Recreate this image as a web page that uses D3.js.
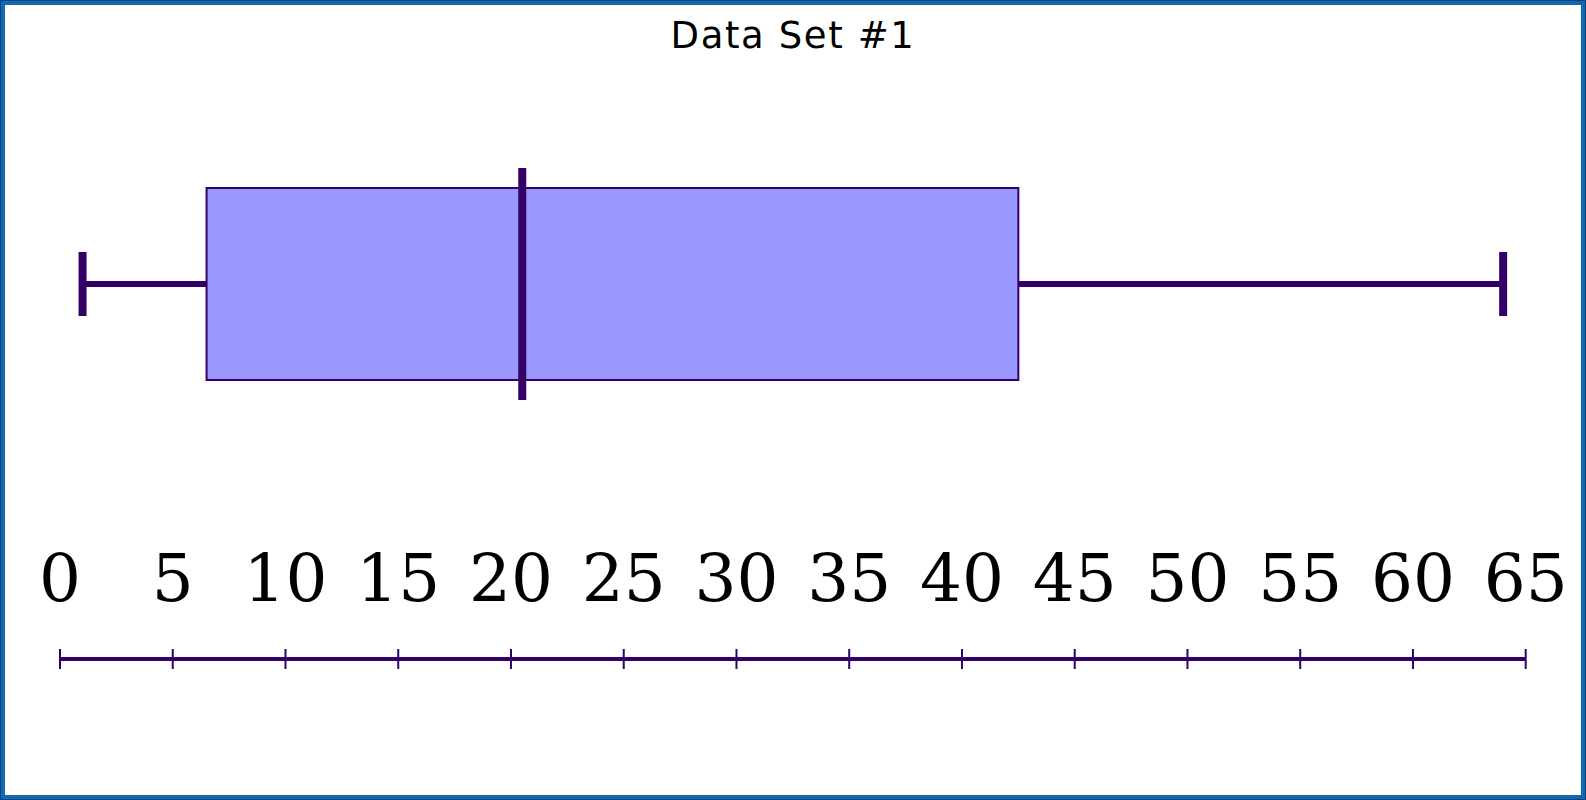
<!DOCTYPE html>
<html>
<head>
<meta charset="utf-8">
<script src="https://cdn.jsdelivr.net/npm/d3@7"></script>
<style>
  html, body { margin: 0; padding: 0; background: #fff; }
  svg { display: block; }
</style>
</head>
<body>
<div id="chart-container"></div>
<script>
// box plot summary for Data Set #1
const title = "Data Set #1";
const statNames = ["min", "q1", "median", "q3", "max"];
const statValues = [1, 6.5, 20.5, 42.5, 64];
const tickValues = [0, 5, 10, 15, 20, 25, 30, 35, 40, 45, 50, 55, 60, 65];

document.addEventListener('DOMContentLoaded', function(){
  drawBoxPlot();
});

function drawBoxPlot(){
  const width = 1586, height = 800;
  const stats = {};
  statNames.forEach((n, i) => stats[n] = statValues[i]);

  const svg = d3.select("#chart-container").append("svg")
    .attr("width", width)
    .attr("height", height);

  //frame
  svg.append("rect")
    .attr("x", 2.5).attr("y", 2.5)
    .attr("width", width - 5).attr("height", height - 5)
    .attr("fill", "#fff")
    .attr("stroke", "#0f6ab4")
    .attr("stroke-width", 5);
  svg.append("rect")
    .attr("x", 0.5).attr("y", 0.5)
    .attr("width", width - 1).attr("height", height - 1)
    .attr("fill", "none")
    .attr("stroke", "#0b3f72")
    .attr("stroke-width", 1);

  svg.append("text")
    .attr("x", width / 2)
    .attr("y", 48)
    .attr("text-anchor", "middle")
    .style("font-family", "Verdana, 'DejaVu Sans', sans-serif")
    .style("font-size", "37px")
    .style("letter-spacing", "1.6px")
    .attr("fill", "#000")
    .text(title);

  const x = d3.scaleLinear().domain([0, 65]).range([60, 1525.7]);
  const cy = 284, boxH = 192, capH = 64, medExt = 20;
  const dark = "#330066";

  //whiskers
  svg.append("line")
    .attr("x1", x(stats.min)).attr("x2", x(stats.q1))
    .attr("y1", cy).attr("y2", cy)
    .attr("stroke", dark).attr("stroke-width", 6);
  svg.append("line")
    .attr("x1", x(stats.q3)).attr("x2", x(stats.max))
    .attr("y1", cy).attr("y2", cy)
    .attr("stroke", dark).attr("stroke-width", 6);

  svg.selectAll(".cap")
    .data([stats.min, stats.max])
    .enter().append("line")
    .attr("class", "cap")
    .attr("x1", d => x(d)).attr("x2", d => x(d))
    .attr("y1", cy - capH / 2).attr("y2", cy + capH / 2)
    .attr("stroke", dark).attr("stroke-width", 8);

  //box
  svg.append("rect")
    .attr("x", x(stats.q1))
    .attr("y", cy - boxH / 2)
    .attr("width", x(stats.q3) - x(stats.q1))
    .attr("height", boxH)
    .attr("fill", "#9999ff")
    .attr("stroke", dark)
    .attr("stroke-width", 2);

  //median
  svg.append("line")
    .attr("x1", x(stats.median)).attr("x2", x(stats.median))
    .attr("y1", cy - boxH / 2 - medExt).attr("y2", cy + boxH / 2 + medExt)
    .attr("stroke", dark).attr("stroke-width", 8);

  //axis
  const axisY = 659;
  svg.append("line")
    .attr("x1", x(0)).attr("x2", x(65))
    .attr("y1", axisY).attr("y2", axisY)
    .attr("stroke", dark).attr("stroke-width", 4);

  svg.selectAll(".tick")
    .data(tickValues)
    .enter().append("line")
    .attr("class", "tick")
    .attr("x1", d => x(d)).attr("x2", d => x(d))
    .attr("y1", axisY - 10).attr("y2", axisY + 10)
    .attr("stroke", dark).attr("stroke-width", 2);

  svg.selectAll(".tick-label")
    .data(tickValues)
    .enter().append("text")
    .attr("class", "tick-label")
    .attr("x", d => x(d))
    .attr("y", 601)
    .attr("text-anchor", "middle")
    .style("font-family", "'DejaVu Serif', serif")
    .style("font-size", "66px")
    .attr("fill", "#000")
    .text(d => d);
}
</script>
</body>
</html>
